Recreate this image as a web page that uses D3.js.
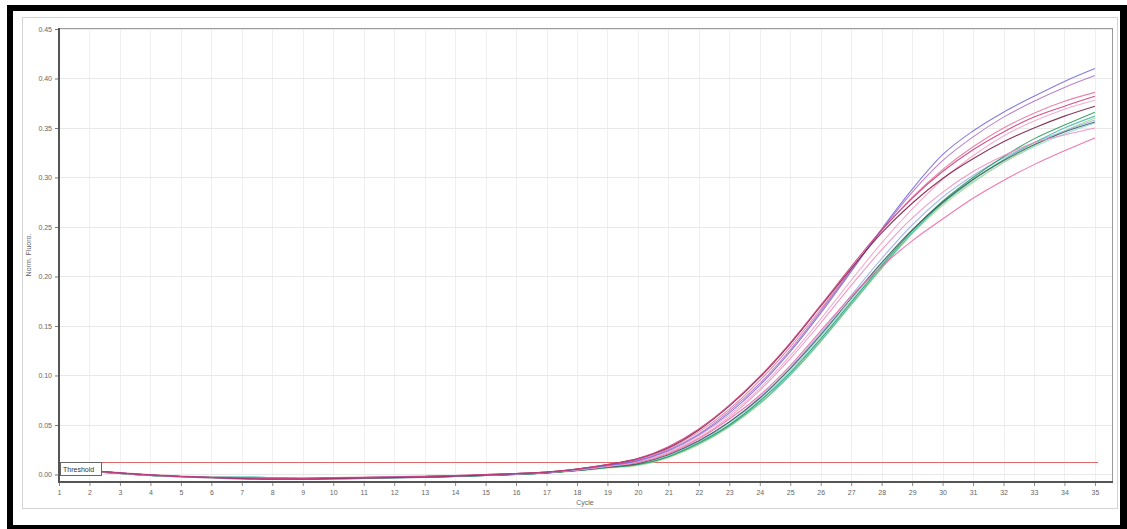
<!DOCTYPE html>
<html>
<head>
<meta charset="utf-8">
<script src="https://cdn.jsdelivr.net/npm/d3@7"></script>
<style>
  html, body { margin: 0; padding: 0; background: #fff; }
  svg { display: block; }
  text { font-family: "Liberation Sans", Arial, sans-serif; }
</style>
</head>
<body>
<svg id="chart" width="1127" height="529"></svg>
<script>
// Amplification plot: normalised fluorescence per cycle for each well
const cycles = d3.range(1, 36);
const yTicks = [0.00, 0.05, 0.10, 0.15, 0.20, 0.25, 0.30, 0.35, 0.40, 0.45];
const xTicks = cycles;
const thresholdValue = 0.013;

const wellA = [0.006,0.004,0.0015,-0.0005,-0.002,-0.003,-0.0035,-0.004,-0.004,-0.0035,-0.003,-0.0025,-0.002,-0.0015,-0.0005,0.0005,0.002,0.005,0.009,0.014,0.024,0.040,0.062,0.090,0.124,0.163,0.205,0.248,0.288,0.323,0.347,0.366,0.382,0.397,0.410];
const wellB = [0.006,0.004,0.0015,-0.0005,-0.002,-0.003,-0.004,-0.004,-0.0045,-0.004,-0.0035,-0.003,-0.002,-0.0015,-0.0005,0.0005,0.002,0.005,0.009,0.014,0.025,0.041,0.064,0.092,0.126,0.165,0.206,0.247,0.285,0.317,0.341,0.361,0.377,0.391,0.403];
const wellC = [0.006,0.004,0.002,0.0,-0.0015,-0.0025,-0.003,-0.0035,-0.0035,-0.003,-0.0025,-0.002,-0.0015,-0.001,0.0,0.001,0.0025,0.0055,0.0095,0.015,0.026,0.043,0.066,0.095,0.129,0.167,0.207,0.246,0.280,0.308,0.331,0.350,0.365,0.377,0.386];
const wellD = [0.006,0.004,0.0015,-0.0005,-0.002,-0.003,-0.0035,-0.004,-0.004,-0.0035,-0.003,-0.0025,-0.002,-0.001,0.0,0.001,0.0025,0.0055,0.010,0.016,0.028,0.046,0.070,0.099,0.133,0.171,0.210,0.247,0.279,0.306,0.328,0.346,0.361,0.372,0.382];
const wellE = [0.0055,0.0035,0.001,-0.001,-0.0025,-0.0035,-0.004,-0.0045,-0.0045,-0.004,-0.0035,-0.003,-0.0025,-0.0015,-0.0005,0.0005,0.002,0.0045,0.0085,0.013,0.023,0.039,0.060,0.087,0.120,0.157,0.196,0.234,0.268,0.298,0.322,0.342,0.357,0.369,0.378];
const wellF = [0.006,0.004,0.0015,-0.0005,-0.002,-0.003,-0.004,-0.0045,-0.0045,-0.004,-0.0035,-0.003,-0.0025,-0.0015,-0.0005,0.001,0.0025,0.0055,0.010,0.016,0.027,0.045,0.069,0.098,0.132,0.170,0.208,0.244,0.274,0.299,0.319,0.336,0.350,0.362,0.372];
const wellG = [0.005,0.003,0.001,-0.001,-0.002,-0.003,-0.003,-0.0035,-0.004,-0.004,-0.0035,-0.003,-0.0025,-0.002,-0.001,0.0,0.0015,0.004,0.007,0.010,0.018,0.032,0.050,0.074,0.103,0.137,0.174,0.211,0.246,0.276,0.300,0.321,0.339,0.353,0.366];
const wellH = [0.005,0.003,0.001,-0.001,-0.002,-0.0025,-0.0025,-0.003,-0.0035,-0.0035,-0.003,-0.003,-0.0025,-0.002,-0.001,0.0,0.0015,0.004,0.007,0.010,0.018,0.031,0.049,0.072,0.101,0.135,0.172,0.209,0.244,0.274,0.298,0.318,0.335,0.350,0.362];
const wellI = [0.0055,0.0035,0.001,-0.001,-0.0025,-0.0035,-0.0045,-0.005,-0.005,-0.0045,-0.004,-0.0035,-0.003,-0.002,-0.001,0.0,0.0015,0.004,0.0075,0.011,0.020,0.034,0.053,0.077,0.107,0.141,0.178,0.214,0.247,0.275,0.298,0.317,0.333,0.346,0.356];
const wellJ = [0.0055,0.0035,0.001,-0.001,-0.002,-0.003,-0.0035,-0.004,-0.0045,-0.0045,-0.004,-0.0035,-0.0025,-0.002,-0.001,0.0,0.0015,0.004,0.0075,0.011,0.020,0.034,0.053,0.078,0.108,0.143,0.181,0.218,0.252,0.280,0.302,0.320,0.335,0.347,0.358];
const wellK = [0.006,0.004,0.0015,-0.0005,-0.002,-0.003,-0.0035,-0.004,-0.004,-0.0035,-0.003,-0.0025,-0.002,-0.0015,-0.0005,0.0005,0.002,0.0045,0.008,0.013,0.022,0.037,0.058,0.085,0.117,0.153,0.191,0.227,0.259,0.285,0.306,0.322,0.335,0.343,0.350];
const wellL = [0.006,0.004,0.0015,-0.0005,-0.002,-0.003,-0.0035,-0.004,-0.004,-0.0035,-0.003,-0.0025,-0.002,-0.0015,-0.0005,0.0005,0.002,0.0045,0.008,0.012,0.021,0.036,0.056,0.080,0.110,0.145,0.180,0.210,0.236,0.258,0.279,0.297,0.313,0.327,0.340];
const wellM = [0.005,0.003,0.001,-0.001,-0.002,-0.0025,-0.003,-0.0035,-0.004,-0.004,-0.0035,-0.003,-0.0025,-0.002,-0.001,0.0,0.0015,0.0035,0.0065,0.009,0.017,0.030,0.048,0.071,0.100,0.134,0.171,0.208,0.243,0.272,0.295,0.315,0.332,0.347,0.360];
const wellN = [0.005,0.003,0.001,-0.001,-0.002,-0.0025,-0.0025,-0.003,-0.0035,-0.0035,-0.003,-0.0025,-0.002,-0.0015,-0.0005,0.0005,0.002,0.004,0.007,0.010,0.019,0.033,0.051,0.075,0.105,0.139,0.176,0.213,0.246,0.274,0.296,0.315,0.331,0.344,0.355];

const wells = [
  { values: wellN, color: "#8fdde2" },
  { values: wellM, color: "#a9d98f" },
  { values: wellJ, color: "#9fb4ea" },
  { values: wellH, color: "#4bbcaa" },
  { values: wellG, color: "#2f9b5e" },
  { values: wellI, color: "#3d5e5a" },
  { values: wellL, color: "#ec6aa8" },
  { values: wellK, color: "#ee8fbe" },
  { values: wellE, color: "#f2a6c6" },
  { values: wellC, color: "#e67a9f" },
  { values: wellB, color: "#b274c9" },
  { values: wellA, color: "#7a6fd8" },
  { values: wellF, color: "#7c2149" },
  { values: wellD, color: "#cf3f80" }
];

const svg = d3.select("#chart");
const W = 1127, H = 529;

// black page frame on a white background
svg.append("rect").attr("width", W).attr("height", H).attr("fill", "#fff");
svg.append("rect").attr("x", 7).attr("y", 5).attr("width", W - 7).attr("height", H - 5).attr("fill", "#000");
svg.append("rect").attr("x", 13).attr("y", 11).attr("width", 1107).attr("height", 514).attr("fill", "#fff");

// panel outline
svg.append("rect").attr("x", 22.5).attr("y", 17.5).attr("width", 1095).attr("height", 491)
  .attr("fill", "#fff").attr("stroke", "#d4d4d4").attr("stroke-width", 1);

const plot = { left: 59, right: 1112, top: 28, bottom: 482 };
const x = d3.scaleLinear().domain([1, 35.56]).range([plot.left, plot.right]);
const y = d3.scaleLinear().domain([-0.0076, 0.45]).range([plot.bottom, plot.top + 1]);

// grid
const grid = svg.append("g");
grid.selectAll("line.v").data(xTicks.slice(1)).join("line")
  .attr("x1", d => Math.round(x(d)) + 0.5).attr("x2", d => Math.round(x(d)) + 0.5)
  .attr("y1", plot.top).attr("y2", plot.bottom)
  .attr("stroke", "#efefef").attr("stroke-width", 1);
grid.selectAll("line.h").data(yTicks).join("line")
  .attr("x1", plot.left).attr("x2", plot.right)
  .attr("y1", d => Math.round(y(d)) + 0.5).attr("y2", d => Math.round(y(d)) + 0.5)
  .attr("stroke", "#e8e8e8").attr("stroke-width", 1);

// plot border (top/right)
svg.append("line").attr("x1", plot.left).attr("x2", plot.right).attr("y1", plot.top + 0.5).attr("y2", plot.top + 0.5)
  .attr("stroke", "#9a9a9a");
svg.append("line").attr("x1", plot.right + 0.5).attr("x2", plot.right + 0.5).attr("y1", plot.top).attr("y2", plot.bottom)
  .attr("stroke", "#9a9a9a");

// threshold line
svg.append("line")
  .attr("x1", plot.left).attr("x2", x(35.1))
  .attr("y1", Math.round(y(thresholdValue)) + 0.5).attr("y2", Math.round(y(thresholdValue)) + 0.5)
  .attr("stroke", "#e06a6a").attr("stroke-width", 1);

// curves
const line = d3.line()
  .x((d, i) => x(cycles[i]))
  .y(d => y(d))
  .curve(d3.curveMonotoneX);

const clipId = "plotclip";
svg.append("clipPath").attr("id", clipId).append("rect")
  .attr("x", plot.left).attr("y", plot.top).attr("width", plot.right - plot.left).attr("height", plot.bottom - plot.top);

svg.append("g").attr("clip-path", `url(#${clipId})`)
  .selectAll("path").data(wells).join("path")
  .attr("d", d => line(d.values))
  .attr("fill", "none")
  .attr("stroke", d => d.color)
  .attr("stroke-width", 1.1)
  .attr("opacity", 0.9);

// threshold label
const tl = svg.append("g");
tl.append("rect").attr("x", 60.5).attr("y", 462.5).attr("width", 41).attr("height", 13)
  .attr("fill", "#fff").attr("stroke", "#666").attr("stroke-width", 1);
tl.append("text").attr("x", 63).attr("y", 471.5).attr("font-size", 7).attr("fill", "#333").text("Threshold");

// axes
const yAxis = d3.axisLeft(y).tickValues(yTicks).tickFormat(d3.format(".2f")).tickSize(4).tickPadding(3);
const gy = svg.append("g").attr("transform", `translate(${plot.left},0)`).call(yAxis);
gy.select(".domain").remove();
gy.selectAll(".tick line").attr("stroke", "#777");
gy.selectAll(".tick text").attr("font-size", 7).attr("fill", "#666")
  .attr("font-family", "Liberation Sans, Arial, sans-serif");

const xAxis = d3.axisBottom(x).tickValues(xTicks).tickFormat(d3.format("d")).tickSize(4).tickPadding(4);
const gx = svg.append("g").attr("transform", `translate(0,${plot.bottom})`).call(xAxis);
gx.select(".domain").remove();
gx.selectAll(".tick line").attr("stroke", "#888");
gx.selectAll(".tick text").attr("font-size", 7).attr("fill", "#666")
  .attr("font-family", "Liberation Sans, Arial, sans-serif");

// axis lines drawn heavier
svg.append("line").attr("x1", plot.left).attr("x2", plot.left).attr("y1", plot.top).attr("y2", plot.bottom + 1)
  .attr("stroke", "#555").attr("stroke-width", 2);
svg.append("line").attr("x1", plot.left).attr("x2", plot.right + 1).attr("y1", plot.bottom).attr("y2", plot.bottom)
  .attr("stroke", "#555").attr("stroke-width", 2);

// axis titles
svg.append("text").attr("x", 585).attr("y", 505).attr("text-anchor", "middle")
  .attr("font-size", 7).attr("fill", "#666").text("Cycle");
svg.append("text").attr("transform", "translate(31,255) rotate(-90)").attr("text-anchor", "middle")
  .attr("font-size", 7).attr("fill", "#666").text("Norm. Fluoro.");
</script>
</body>
</html>
